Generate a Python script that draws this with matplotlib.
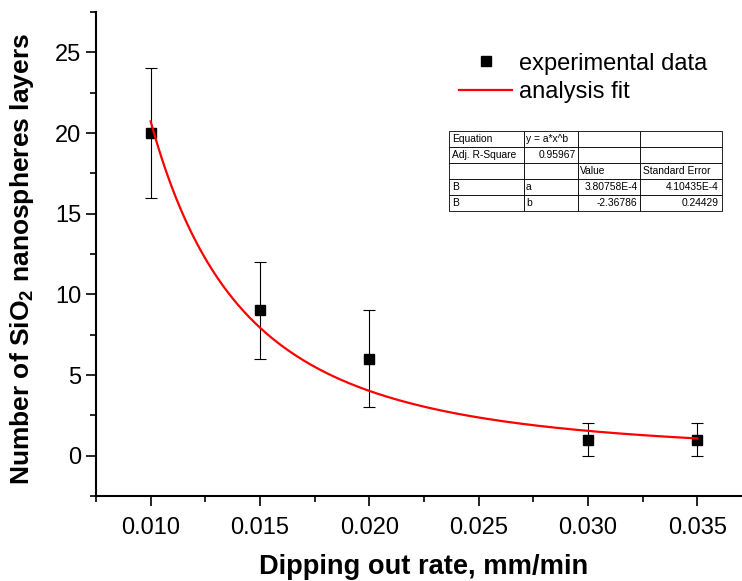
import numpy as np
import matplotlib
matplotlib.use('Agg')
import matplotlib.pyplot as plt
from matplotlib.lines import Line2D
from matplotlib.ticker import MultipleLocator

plt.rcParams.update({
    'font.family': ['Liberation Sans', 'DejaVu Sans'],
    'mathtext.fontset': 'custom',
    'mathtext.rm': 'Liberation Sans',
    'mathtext.bf': 'Liberation Sans:bold',
})

# Data
rate = [0.010, 0.015, 0.020, 0.030, 0.035]
layers = [20, 9, 6, 1, 1]
layers_err = [4, 3, 3, 1, 1]

# Fit parameters (y = a*x^b)
fit_a = 3.80758e-4
fit_b = -2.36786

table_rows = [
    ['Equation', 'y = a*x^b', '', ''],
    ['Adj. R-Square', '0.95967', '', ''],
    ['', '', 'Value', 'Standard Error'],
    ['B', 'a', '3.80758E-4', '4.10435E-4'],
    ['B', 'b', '-2.36786', '0.24429'],
]

fig = plt.figure(figsize=(7.42, 5.81), dpi=100)
ax = fig.add_axes([96 / 742, 85 / 581, 656 / 742, 484 / 581])

ax.errorbar(rate, layers, yerr=layers_err, fmt='none', ecolor='black',
            elinewidth=0.8, capsize=4, capthick=0.8, zorder=2)
ax.plot(rate, layers, 's', color='black', markersize=7.5, zorder=3)

xf = np.linspace(rate[0], rate[-1], 300)
ax.plot(xf, fit_a * xf ** fit_b, color='red', lw=1.6, zorder=4)

ax.set_xlim(0.0075, 0.0375)
ax.set_ylim(-2.5, 27.5)
ax.xaxis.set_major_locator(MultipleLocator(0.005))
ax.xaxis.set_minor_locator(MultipleLocator(0.0025))
ax.yaxis.set_major_locator(MultipleLocator(5))
ax.yaxis.set_minor_locator(MultipleLocator(2.5))
ax.xaxis.set_major_formatter(plt.FuncFormatter(lambda v, p: f'{v:.3f}'))
ax.tick_params(which='major', direction='out', length=7, width=1.2, labelsize=17)
ax.tick_params(which='minor', direction='out', length=4, width=1.2)
ax.tick_params(axis='x', pad=8)

for s in ['top', 'right']:
    ax.spines[s].set_visible(False)
for s in ['left', 'bottom']:
    ax.spines[s].set_linewidth(1.5)

ax.set_xlabel('Dipping out rate, mm/min', fontsize=19.6, fontweight='bold', labelpad=11)
ax.set_ylabel(r'Number of SiO$_\mathbf{2}$ nanospheres layers', fontsize=19,
              fontweight='bold')
ax.yaxis.set_label_coords(-0.092, 0.49)

handles = [
    Line2D([], [], ls='none', marker='s', color='black', markersize=7.5),
    Line2D([], [], color='red', lw=1.6),
]
ax.legend(handles, ['experimental data', 'analysis fit'], loc='upper left',
          bbox_to_anchor=(0.521, 0.96), frameon=False, fontsize=17,
          handlelength=2.25, handletextpad=0.3, labelspacing=0.28)

tbl = ax.table(cellText=table_rows, bbox=[0.538, 0.588, 0.416, 0.166],
               colWidths=[75, 54, 62, 82], zorder=5)
tbl.auto_set_font_size(False)
for (r, c), cell in tbl.get_celld().items():
    cell.set_fontsize(7.4)
    cell.set_linewidth(0.6)
    cell.PAD = 0.04
    right = (r == 1 and c == 1) or (r >= 3 and c >= 2)
    cell.set_text_props(ha='right' if right else 'left')
    cell._loc = 'right' if right else 'left'

fig.savefig('out.png', dpi=100)
